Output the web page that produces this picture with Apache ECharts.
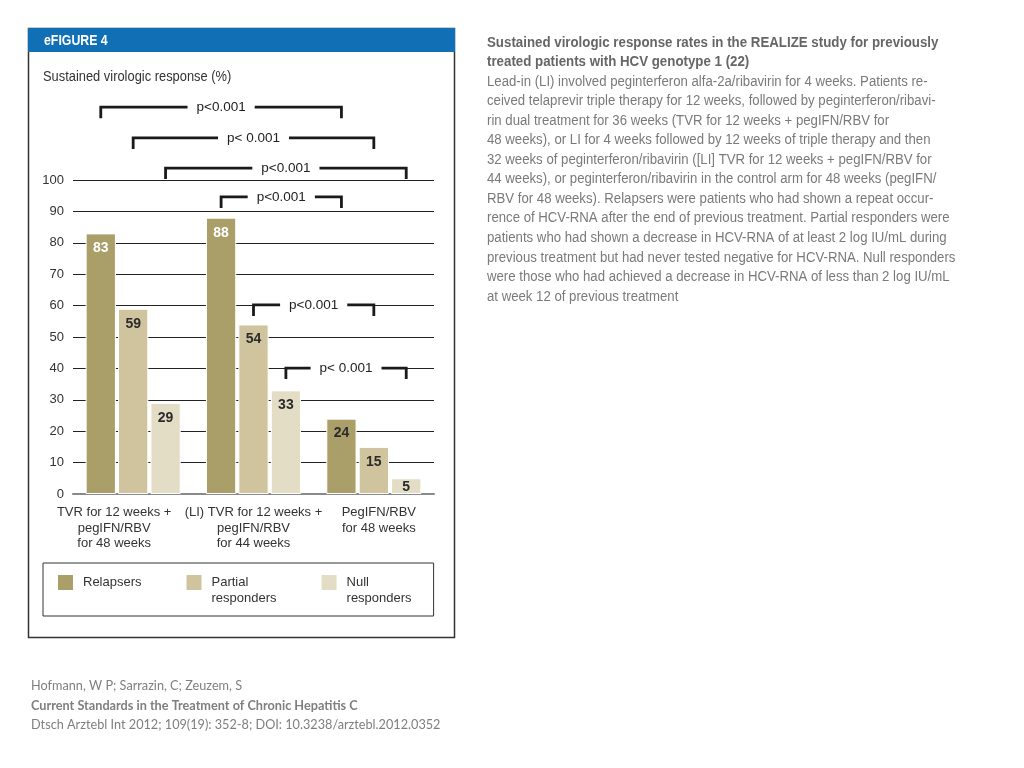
<!DOCTYPE html>
<html>
<head>
<meta charset="utf-8">
<script src="https://cdn.jsdelivr.net/npm/echarts@6/dist/echarts.min.js"></script>
<style>html,body{margin:0;padding:0;background:#fff}#c{width:1024px;height:768px}</style>
</head>
<body>
<div id="c"></div>
<script>
// ---- data ----
const categories = ['TVR for 12 weeks +\npegIFN/RBV\nfor 48 weeks', '(LI) TVR for 12 weeks +\npegIFN/RBV\nfor 44 weeks', 'PegIFN/RBV\nfor 48 weeks'];
const seriesNames = ['Relapsers', 'Partial responders', 'Null responders'];
const legendLabels = ['Relapsers\n ', 'Partial\nresponders', 'Null\nresponders'];
const relapsers = [83, 88, 24];
const partialResponders = [59, 54, 15];
const nullResponders = [29, 33, 5];
const yTicks = [0, 10, 20, 30, 40, 50, 60, 70, 80, 90, 100];
// significance brackets: start group, end group, which bar in the group, bracket level (%)
const bracketStartGroup = [0, 0, 0, 1, 1, 1];
const bracketEndGroup = [2, 2, 2, 2, 2, 2];
const bracketBar = [0, 1, 2, 0, 1, 2];
const bracketLevel = [123.2, 113.4, 103.8, 94.6, 60.2, 40.1];
const bracketText = ['p<0.001', 'p< 0.001', 'p<0.001', 'p<0.001', 'p<0.001', 'p< 0.001'];

const FONT = '"Liberation Sans", Arial, sans-serif';
const colors = ['#ab9f69', '#cfc49d', '#e3ddc6'];
const CAT_GAP = 0.21, BAR_GAP = 0.07;
const NARROW = 0.92;

const chart = echarts.init(document.getElementById('c'));

function barData(vals, idx) {
  return vals.map((v, i) => {
    const item = { value: v };
    if (idx === 0 && i !== 2) item.label = { color: '#ffffff' };
    if (v < 8) item.label = { distance: 2 };
    return item;
  });
}

const bracketData = bracketStartGroup.map((s, i) => [s, bracketEndGroup[i], bracketBar[i], bracketLevel[i], bracketText[i]]);

const rightTitle = 'Sustained virologic response rates in the REALIZE study for previously\ntreated patients with HCV genotype 1 (22)';
const rightBody = [
  'Lead-in (LI) involved peginterferon alfa-2a/ribavirin for 4 weeks. Patients re-',
  'ceived telaprevir triple therapy for 12 weeks, followed by peginterferon/ribavi-',
  'rin dual treatment for 36 weeks (TVR for 12 weeks + pegIFN/RBV for',
  '48 weeks), or LI for 4 weeks followed by 12 weeks of triple therapy and then',
  '32 weeks of peginterferon/ribavirin ([LI] TVR for 12 weeks + pegIFN/RBV for',
  '44 weeks), or peginterferon/ribavirin in the control arm for 48 weeks (pegIFN/',
  'RBV for 48 weeks). Relapsers were patients who had shown a repeat occur-',
  'rence of HCV-RNA after the end of previous treatment. Partial responders were',
  'patients who had shown a decrease in HCV-RNA of at least 2 log IU/mL during',
  'previous treatment but had never tested negative for HCV-RNA. Null responders',
  'were those who had achieved a decrease in HCV-RNA of less than 2 log IU/mL',
  'at week 12 of previous treatment'
].join('\n');

const option = {
  backgroundColor: '#ffffff',
  animation: false,
  color: colors,
  grid: { left: 73, right: 590, top: 180, bottom: 274, containLabel: false },
  xAxis: {
    type: 'category',
    data: [
      { value: categories[0], textStyle: { padding: [0, 38, 0, 0] } },
      { value: categories[1] },
      { value: categories[2], textStyle: { padding: [0, 0, 0, 10] } }
    ],
    axisLine: { lineStyle: { color: '#8a8a8a', width: 2 } },
    axisTick: { show: false },
    axisLabel: { interval: 0, margin: 11, color: '#333', fontFamily: FONT, fontSize: 13, lineHeight: 15.5 }
  },
  yAxis: {
    type: 'value', min: 0, max: 100, interval: 10,
    axisLine: { show: false }, axisTick: { show: false },
    axisLabel: { margin: 9, color: '#333', fontFamily: FONT, fontSize: 13, formatter: v => yTicks.includes(v) ? String(v) : '' },
    splitLine: { lineStyle: { color: '#222', width: 1 } }
  },
  legend: {
    data: seriesNames, left: 43, top: 563, orient: 'horizontal',
    borderColor: '#333', borderWidth: 1, padding: [10, 22, 8, 13], itemGap: 43,
    icon: 'path://M0,0h17v17h-17zM0,33h0.01v0.01h-0.01z',
    itemWidth: 17, itemHeight: 33,
    formatter: name => legendLabels[seriesNames.indexOf(name)],
    textStyle: { color: '#333', fontFamily: FONT, fontSize: 13, lineHeight: 16, padding: [0, 0, 0, 4] }
  },
  series: [
    ...[relapsers, partialResponders, nullResponders].map((vals, idx) => ({
      type: 'bar', name: seriesNames[idx], data: barData(vals, idx),
      barCategoryGap: (CAT_GAP * 100) + '%', barGap: (BAR_GAP * 100) + '%',
      itemStyle: { color: colors[idx], borderColor: '#fff', borderWidth: 1 },
      label: { show: true, position: 'insideTop', distance: 8, color: '#2b2b2b', fontFamily: FONT, fontWeight: 'bold', fontSize: 14 },
      z: 2
    })),
    {
      type: 'custom', name: 'brackets', clip: false, z: 5,
      encode: { x: 0, y: 3 },
      data: bracketData,
      renderItem: function (params, api) {
        const catW = api.size([1, 0])[0];
        const barW = catW * (1 - CAT_GAP) / (3 + 2 * BAR_GAP);
        const step = barW * (1 + BAR_GAP);
        const off = (api.value(2) - 1) * step;
        const x1 = api.coord([api.value(0), 0])[0] + off;
        const x2 = api.coord([api.value(1), 0])[0] + off;
        const y = api.coord([0, api.value(3)])[1];
        const drop = 11;
        return {
          type: 'group',
          children: [
            { type: 'polyline', shape: { points: [[x1, y + drop], [x1, y], [x2, y], [x2, y + drop]] },
              style: { stroke: '#1a1a1a', lineWidth: 2.8, fill: null } },
            { type: 'text', x: (x1 + x2) / 2, y: y,
              style: { text: bracketText[params.dataIndex], fill: '#222', font: '13.5px ' + FONT, align: 'center', verticalAlign: 'middle',
                backgroundColor: '#fff', padding: [2, 9, 2, 9] } }
          ]
        };
      }
    }
  ],
  graphic: [
    { type: 'rect', z: -1, shape: { x: 28.5, y: 28.5, width: 426, height: 609 }, style: { fill: '#fff', stroke: '#333', lineWidth: 1.5 } },
    { type: 'rect', z: 0, shape: { x: 28, y: 28, width: 427, height: 24 }, style: { fill: '#1170b5' } },
    { type: 'text', z: 1, x: 44, y: 41, scaleX: 0.88, style: { text: 'eFIGURE 4', fill: '#fff', font: 'bold 14px ' + FONT, verticalAlign: 'middle' } },
    { type: 'text', z: 1, x: 43, y: 77, scaleX: NARROW, style: { text: 'Sustained virologic response (%)', fill: '#333', font: '14px ' + FONT, verticalAlign: 'middle' } },
    { type: 'text', z: 1, x: 487, y: 34, scaleX: 0.917, style: { text: rightTitle, fill: '#666666', font: 'bold 14.5px ' + FONT, lineHeight: 18.5 } },
    { type: 'text', z: 1, x: 487, y: 72, scaleX: 0.942, style: { text: rightBody, fill: '#7a7a7a', font: '14px ' + FONT, lineHeight: 19.55 } },
    { type: 'text', z: 1, x: 31, y: 676.5, style: { text: 'Hofmann, W P; Sarrazin, C; Zeuzem, S', fill: '#7f7f7f', font: '12.7px Lato, "Open Sans", sans-serif', lineHeight: 19.5 } },
    { type: 'text', z: 1, x: 31, y: 696, style: { text: 'Current Standards in the Treatment of Chronic Hepatitis C', fill: '#7f7f7f', font: 'bold 12.7px Lato, "Open Sans", sans-serif', lineHeight: 19.5 } },
    { type: 'text', z: 1, x: 31, y: 715.5, style: { text: 'Dtsch Arztebl Int 2012; 109(19): 352-8; DOI: 10.3238/arztebl.2012.0352', fill: '#7f7f7f', font: '12.7px Lato, "Open Sans", sans-serif', lineHeight: 19.5 } }
  ]
};
chart.setOption(option);
</script>
</body>
</html>
